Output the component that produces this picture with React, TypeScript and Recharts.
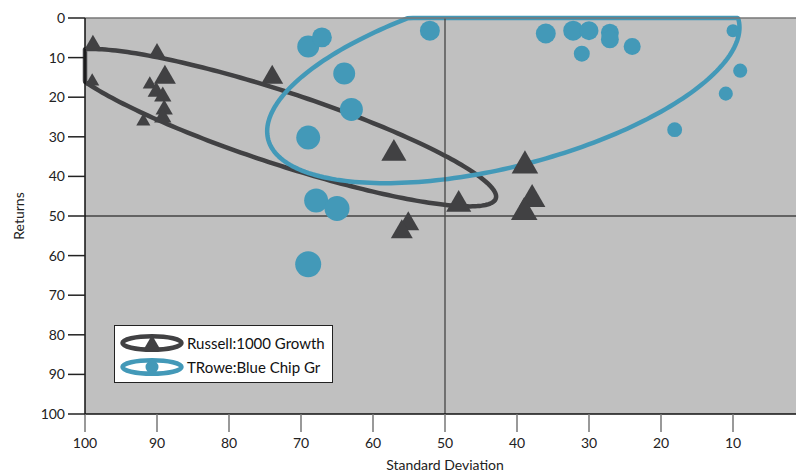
import React from 'react';
import {
  ScatterChart,
  Scatter,
  XAxis,
  YAxis,
  ZAxis,
  CartesianGrid,
  ReferenceLine,
  ReferenceArea,
  Legend,
} from 'recharts';

// ---- axis ticks ----
const xTicks = [0, 10, 20, 30, 40, 50, 60, 70, 80, 90, 100];
const yTicks = [0, 10, 20, 30, 40, 50, 60, 70, 80, 90, 100];
const xDomain = [0, 100];
const yDomain = [0, 100];

// ---- series names ----
const seriesNames = ['Russell:1000 Growth', 'TRowe:Blue Chip Gr'];

// ---- Russell 1000 Growth (triangles) ----
const russellX = [98.9, 99, 90, 91, 88.9, 90.1, 89.2, 89, 89.2, 91.9, 74, 57.1, 48.1, 38.9, 37.9, 39, 55.1, 56];
const russellY = [6.6, 16, 8.7, 16.8, 15, 18.6, 19.8, 23.1, 25.1, 26.1, 15, 34.2, 47.1, 37.3, 45.8, 49.1, 52, 54];
const russellZ = [3.2, 2.4, 3.2, 2.4, 5.8, 3.6, 3.6, 3.6, 3.6, 2.4, 5.8, 7.6, 7.6, 8.5, 8.5, 8.5, 5.8, 5.8];

// ---- TRowe Blue Chip Growth (circles) ----
const troweX = [69, 67.1, 52.1, 64, 63, 69, 67.9, 65, 69, 36, 32.2, 30, 27.1, 27.1, 31, 24, 10, 9, 11, 18.1];
const troweY = [7.2, 4.9, 3.2, 14, 23.1, 30.2, 46.1, 48.1, 62.2, 3.9, 3.2, 3.2, 3.7, 5.4, 9, 7.2, 3.2, 13.3, 19.1, 28.2];
const troweZ = [6.3, 5.2, 5.2, 6.3, 6.9, 7.5, 7.5, 8.2, 8.85, 5.2, 5.2, 4.7, 4.2, 4.2, 3.35, 3.8, 2.2, 2.6, 2.6, 2.9];

// ---- dispersion ellipses (centre + conjugate half-axes, data units) ----
const russellEllipse = [72.9, 27.7, -30, 17.4, 0, 9.6];
const troweEllipse = [41.9, 15.5, -32.8, -13.1, 0, 22.7];

const DARK = '#414143';
const BLUE = '#4399b8';
const FONT = 'Lato, "Open Sans", sans-serif';

const russellData = russellX.map((x, i) => ({ x, y: russellY[i], z: russellZ[i] }));
const troweData = troweX.map((x, i) => ({ x, y: troweY[i], z: troweZ[i] }));

const EllipsesShape = (props: any) => {
  const { x, y, width, height } = props;
  const toPx = (dx: number, dy: number) => [
    x + ((xDomain[1] - dx) / (xDomain[1] - xDomain[0])) * width,
    y + ((dy - yDomain[0]) / (yDomain[1] - yDomain[0])) * height,
  ];
  const build = (e: number[]) => {
    const N = 240;
    let d = '';
    for (let i = 0; i <= N; i++) {
      const t = (2 * Math.PI * i) / N;
      let dx = e[0] + e[2] * Math.cos(t) + e[4] * Math.sin(t);
      let dy = e[1] + e[3] * Math.cos(t) + e[5] * Math.sin(t);
      dx = Math.min(xDomain[1], Math.max(xDomain[0], dx));
      dy = Math.min(yDomain[1], Math.max(yDomain[0], dy));
      const [px, py] = toPx(dx, dy);
      d += (i === 0 ? 'M' : 'L') + px.toFixed(2) + ',' + py.toFixed(2);
    }
    return d + 'Z';
  };
  return (
    <g>
      <path d={build(russellEllipse)} fill="none" stroke={DARK} strokeWidth={4.5} strokeLinejoin="round" />
      <path d={build(troweEllipse)} fill="none" stroke={BLUE} strokeWidth={4.5} strokeLinejoin="round" />
    </g>
  );
};

const renderLegend = (props: any) => {
  const payload = props.payload || [];
  return (
    <svg width={219} height={58} style={{ display: 'block' }}>
      <rect x={0.5} y={0.5} width={218} height={57} fill="#fff" stroke="#222" strokeWidth={1} />
      {payload.map((entry: any, i: number) => {
        const cy = 18 + i * 24;
        const color = entry.color;
        return (
          <g key={i}>
            <ellipse cx={38} cy={cy} rx={29.5} ry={6.8} fill="none" stroke={color} strokeWidth={4.5} />
            {entry.type === 'triangle' ? (
              <path d={`M38,${cy - 8}L45.5,${cy + 5}L30.5,${cy + 5}Z`} fill={color} />
            ) : (
              <circle cx={38} cy={cy} r={6.5} fill={color} />
            )}
            <text x={73} y={cy + 5.5} fontFamily={FONT} fontSize={15} fill="#111">
              {entry.value}
            </text>
          </g>
        );
      })}
    </svg>
  );
};

export default function App() {
  return (
    <div style={{ width: 796, height: 463, overflow: 'hidden', fontFamily: FONT }}>
      <ScatterChart width={820} height={463} margin={{ top: 10, right: 23, bottom: 0, left: 0 }}>
        <CartesianGrid fill="#c0c0c0" horizontal={false} vertical={false} />
        <XAxis
          dataKey="x"
          type="number"
          domain={xDomain}
          ticks={xTicks}
          interval={0}
          reversed
          allowDataOverflow
          height={57}
          tickSize={18}
          tickMargin={6}
          tick={{ fill: '#222', fontSize: 14, fontFamily: FONT }}
          tickLine={{ stroke: '#777', strokeWidth: 1.5 }}
          axisLine={{ stroke: '#111', strokeWidth: 1.5 }}
          label={{ value: 'Standard Deviation', position: 'insideBottom', offset: 1, fill: '#222', fontSize: 14, fontFamily: FONT }}
        />
        <YAxis
          dataKey="y"
          type="number"
          domain={yDomain}
          ticks={yTicks}
          interval={0}
          reversed
          allowDataOverflow
          width={77}
          tickSize={17}
          tickMargin={3}
          tick={{ fill: '#222', fontSize: 14, fontFamily: FONT }}
          tickLine={{ stroke: '#222', strokeWidth: 1.5 }}
          axisLine={{ stroke: '#111', strokeWidth: 1.5 }}
          label={{ value: 'Returns', angle: -90, position: 'insideLeft', offset: 11, fill: '#222', fontSize: 14, fontFamily: FONT, style: { textAnchor: 'middle' } }}
        />
        <ZAxis zAxisId="tri" dataKey="z" type="number" domain={[0, 10]} range={[0, 360]} />
        <ZAxis zAxisId="dot" dataKey="z" type="number" domain={[0, 10]} range={[0, 600]} />
        <ReferenceArea x1={xDomain[0]} x2={xDomain[1]} y1={yDomain[0]} y2={yDomain[1]} shape={EllipsesShape} ifOverflow="visible" />
        <ReferenceLine x={50} stroke="#444" strokeWidth={1.3} />
        <ReferenceLine y={50} stroke="#444" strokeWidth={1.3} />
        <ReferenceLine y={0} stroke="#777" strokeWidth={1.5} />
        <Scatter
          name={seriesNames[0]}
          data={russellData}
          zAxisId="tri"
          shape="triangle"
          legendType="triangle"
          fill={DARK}
          isAnimationActive={false}
        />
        <Scatter
          name={seriesNames[1]}
          data={troweData}
          zAxisId="dot"
          shape="circle"
          legendType="circle"
          fill={BLUE}
          isAnimationActive={false}
        />
        <Legend
          layout="vertical"
          align="center"
          verticalAlign="middle"
          content={renderLegend}
          wrapperStyle={{ left: 106, top: 317, width: 219, height: 58 }}
        />
      </ScatterChart>
    </div>
  );
}
